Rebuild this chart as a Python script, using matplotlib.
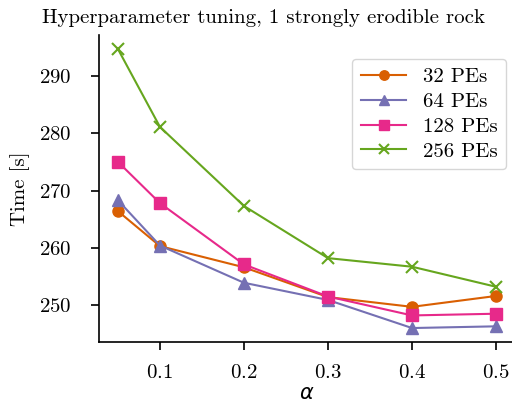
import matplotlib
matplotlib.use("Agg")
import matplotlib.pyplot as plt

alpha = [0.05, 0.1, 0.2, 0.3, 0.4, 0.5]
pes_32 = [266.4, 260.3, 256.6, 251.4, 249.7, 251.6]
pes_64 = [268.3, 260.4, 253.9, 250.9, 246.0, 246.3]
pes_128 = [275.0, 267.8, 257.1, 251.5, 248.2, 248.5]
pes_256 = [294.7, 281.1, 267.3, 258.2, 256.7, 253.2]

plt.rcParams['font.family'] = 'serif'
plt.rcParams['font.serif'] = ['cmr10']
plt.rcParams['axes.formatter.use_mathtext'] = True
plt.rcParams['font.size'] = 15

fig = plt.figure(figsize=(5.12, 4.09), dpi=100)
ax = fig.add_axes([99 / 512, 1 - 342 / 409, 416 / 512, 307 / 409])

ax.plot(alpha, pes_32, marker='o', color='#d95f02', lw=1.5, ms=8, label='32 PEs')
ax.plot(alpha, pes_64, marker='^', color='#7570b3', lw=1.5, ms=8, label='64 PEs')
ax.plot(alpha, pes_128, marker='s', color='#e7298a', lw=1.5, ms=8, label='128 PEs')
ax.plot(alpha, pes_256, marker='x', color='#66a61e', lw=1.5, ms=8, mew=1.5, label='256 PEs')

ax.set_xticks([0.1, 0.2, 0.3, 0.4, 0.5])
ax.set_yticks([250, 260, 270, 280, 290])
ax.tick_params(axis='both', length=6, width=1.2)
ax.tick_params(axis='x', pad=10)
ax.tick_params(axis='y', pad=14)
for s in ['left', 'bottom']:
    ax.spines[s].set_linewidth(1.2)
ax.spines['top'].set_visible(False)
ax.spines['right'].set_visible(False)
ax.set_xlabel(r'$\alpha$', labelpad=2)
ax.set_ylabel('Time [s]', labelpad=6)
ax.legend(loc='upper right', bbox_to_anchor=(1.004, 0.955), handlelength=2.2,
          labelspacing=0.3, fontsize=15, markerscale=0.85)
fig.text(0.514, 0.978, 'Hyperparameter tuning, 1 strongly erodible rock',
         ha='center', va='top', fontsize=15)

fig.savefig('out.png', dpi=100)
